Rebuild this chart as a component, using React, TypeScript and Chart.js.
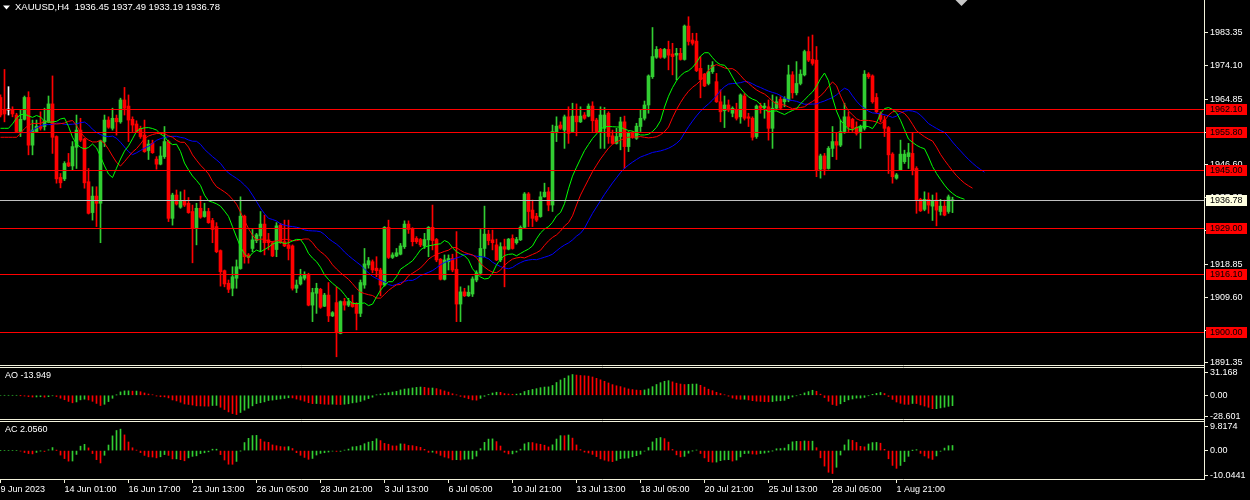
import React, { useEffect, useRef } from 'react';
import { Chart, registerables } from 'chart.js';

Chart.register(...registerables);

// ---------- DATA ----------
const opens = [
  1965.3, 1962.0, 1961.8, 1962.0, 1960.4, 1955.8, 1959.2, 1965.3, 1952.0, 1955.8,
  1957.2, 1957.2, 1958.5, 1963.5, 1954.4, 1943.0, 1942.6, 1947.1, 1946.2, 1951.4,
  1956.2, 1953.7, 1941.8, 1933.2, 1937.8, 1935.8, 1953.0, 1959.0, 1956.7, 1959.5,
  1958.5, 1964.6, 1962.9, 1959.2, 1957.9, 1956.7, 1954.8, 1950.5, 1952.5, 1948.1,
  1946.7, 1948.8, 1953.0, 1931.6, 1938.1, 1934.7, 1936.5, 1935.8, 1933.5, 1928.8,
  1934.4, 1932.1, 1933.5, 1931.0, 1929.3, 1922.6, 1917.0, 1913.5, 1912.1, 1914.9,
  1917.6, 1932.2, 1921.4, 1923.2, 1925.4, 1926.7, 1930.0, 1925.6, 1924.8, 1922.9,
  1929.7, 1925.1, 1924.2, 1923.9, 1912.1, 1913.3, 1914.9, 1915.8, 1907.4, 1910.7,
  1911.8, 1907.1, 1910.2, 1904.4, 1908.1, 1899.5, 1908.4, 1907.4, 1908.1, 1907.7,
  1905.1, 1913.0, 1918.6, 1919.5, 1917.7, 1917.2, 1913.0, 1929.1, 1920.7, 1921.1,
  1921.6, 1923.7, 1930.0, 1928.8, 1926.0, 1925.7, 1923.9, 1925.6, 1929.1, 1925.7,
  1920.2, 1914.6, 1919.5, 1920.4, 1917.4, 1907.7, 1911.1, 1910.0, 1910.5, 1914.4,
  1916.3, 1923.2, 1927.2, 1925.6, 1924.2, 1920.0, 1923.7, 1923.0, 1926.0, 1924.8,
  1925.6, 1929.1, 1938.4, 1933.9, 1932.2, 1932.1, 1937.6, 1939.0, 1935.3, 1955.5,
  1957.6, 1956.2, 1959.9, 1955.8, 1960.1, 1958.5, 1960.4, 1960.1, 1962.9, 1959.0,
  1955.8, 1956.7, 1960.9, 1954.6, 1952.5, 1954.4, 1958.5, 1951.6, 1955.3, 1953.9,
  1957.2, 1959.5, 1963.2, 1971.1, 1976.5, 1978.7, 1976.5, 1978.7, 1977.4, 1977.1,
  1977.6, 1975.9, 1985.2, 1981.3, 1981.0, 1973.4, 1971.8, 1969.2, 1972.5, 1969.7,
  1964.1, 1961.6, 1963.2, 1960.9, 1961.8, 1959.9, 1965.7, 1959.9, 1959.5, 1954.4,
  1962.9, 1962.5, 1962.7, 1956.7, 1962.3, 1964.8, 1964.1, 1964.6, 1971.6, 1966.6,
  1969.2, 1971.6, 1978.1, 1975.9, 1975.7, 1945.3, 1949.0, 1945.5, 1951.1, 1953.0,
  1952.0, 1955.8, 1959.9, 1959.2, 1957.0, 1955.8, 1956.7, 1971.8, 1971.3, 1965.3,
  1960.9, 1959.0, 1956.9, 1949.5, 1942.8, 1945.1, 1947.4, 1948.8, 1949.7, 1945.5,
  1936.9, 1934.1, 1936.9, 1935.0, 1936.7, 1933.5, 1935.0, 1933.5, 1936.45,
];
const highs = [
  1966.0, 1973.1, 1968.3, 1962.7, 1960.9, 1961.8, 1965.7, 1966.9, 1959.0, 1959.0,
  1961.3, 1962.3, 1965.7, 1971.3, 1954.6, 1944.1, 1947.4, 1949.7, 1953.0, 1960.4,
  1959.5, 1953.9, 1945.5, 1940.4, 1940.4, 1953.4, 1960.4, 1959.9, 1962.3, 1960.4,
  1965.1, 1968.1, 1966.0, 1959.9, 1958.8, 1957.3, 1959.0, 1953.4, 1953.4, 1948.8,
  1951.6, 1957.2, 1953.4, 1938.6, 1939.5, 1939.0, 1939.5, 1937.4, 1935.3, 1935.8,
  1937.8, 1935.8, 1934.4, 1931.6, 1930.4, 1922.8, 1917.2, 1914.4, 1918.1, 1920.0,
  1937.6, 1932.5, 1921.8, 1928.5, 1927.4, 1933.5, 1932.5, 1927.4, 1925.1, 1930.4,
  1930.2, 1931.1, 1931.1, 1924.2, 1914.4, 1917.4, 1916.7, 1916.3, 1912.1, 1913.5,
  1912.1, 1910.7, 1913.7, 1905.6, 1912.5, 1908.6, 1909.3, 1909.3, 1910.2, 1908.1,
  1914.4, 1923.2, 1920.7, 1920.0, 1920.9, 1917.7, 1929.3, 1931.1, 1922.0, 1923.2,
  1924.6, 1930.9, 1930.9, 1929.0, 1926.5, 1926.0, 1927.4, 1929.3, 1935.3, 1926.0,
  1920.4, 1921.4, 1921.4, 1921.6, 1927.9, 1912.5, 1912.1, 1912.8, 1915.3, 1917.0,
  1928.5, 1935.0, 1928.3, 1928.3, 1925.8, 1924.8, 1925.8, 1926.0, 1927.0, 1926.3,
  1929.5, 1938.8, 1938.8, 1936.7, 1933.0, 1939.0, 1941.4, 1940.2, 1957.6, 1959.9,
  1958.5, 1960.4, 1962.7, 1963.7, 1963.5, 1962.7, 1961.1, 1963.5, 1964.1, 1959.5,
  1962.7, 1962.5, 1961.3, 1956.2, 1956.7, 1959.8, 1960.1, 1955.8, 1955.8, 1958.1,
  1961.8, 1964.3, 1971.6, 1984.8, 1979.5, 1979.0, 1979.0, 1981.0, 1980.4, 1979.0,
  1979.0, 1985.5, 1987.8, 1983.2, 1983.2, 1976.7, 1972.0, 1974.3, 1975.3, 1972.0,
  1967.4, 1965.7, 1964.6, 1962.7, 1963.7, 1966.3, 1966.4, 1960.9, 1959.9, 1963.2,
  1963.7, 1963.7, 1964.6, 1966.0, 1965.5, 1965.5, 1965.5, 1974.3, 1972.5, 1975.3,
  1973.0, 1978.5, 1982.2, 1982.7, 1979.5, 1949.5, 1949.7, 1951.6, 1957.2, 1955.3,
  1959.0, 1963.7, 1961.3, 1959.5, 1958.5, 1957.6, 1972.8, 1972.2, 1971.6, 1966.4,
  1961.3, 1960.1, 1957.2, 1949.9, 1944.1, 1953.4, 1950.6, 1952.5, 1955.3, 1946.0,
  1937.2, 1939.0, 1938.7, 1938.1, 1938.7, 1936.9, 1936.7, 1938.1, 1937.49,
];
const lows = [
  1959.9, 1958.5, 1960.4, 1959.9, 1955.5, 1954.4, 1959.0, 1949.3, 1949.3, 1955.5,
  1956.2, 1956.2, 1958.3, 1949.7, 1941.4, 1940.1, 1942.1, 1946.0, 1945.1, 1945.5,
  1953.0, 1940.0, 1932.8, 1931.1, 1929.3, 1924.8, 1951.6, 1956.7, 1956.2, 1954.8,
  1958.1, 1960.4, 1953.0, 1955.8, 1955.5, 1953.9, 1950.0, 1948.0, 1949.7, 1945.3,
  1946.5, 1948.3, 1930.7, 1929.7, 1935.3, 1934.4, 1934.9, 1933.0, 1919.2, 1924.2,
  1931.6, 1931.9, 1930.2, 1924.8, 1922.0, 1912.7, 1912.5, 1910.9, 1910.0, 1912.1,
  1917.4, 1919.1, 1919.1, 1922.3, 1924.8, 1922.3, 1921.4, 1922.8, 1920.9, 1920.9,
  1924.6, 1923.7, 1920.0, 1911.6, 1910.9, 1913.0, 1914.4, 1907.2, 1902.8, 1905.1,
  1906.5, 1907.0, 1902.8, 1904.2, 1893.0, 1899.4, 1906.0, 1907.0, 1906.8, 1900.5,
  1904.2, 1912.1, 1917.7, 1916.4, 1915.3, 1910.0, 1912.7, 1920.4, 1920.4, 1920.9,
  1921.4, 1923.2, 1927.4, 1923.9, 1924.6, 1923.7, 1923.2, 1920.9, 1922.8, 1919.5,
  1914.4, 1914.4, 1917.2, 1916.7, 1902.8, 1902.8, 1909.8, 1909.8, 1909.8, 1913.9,
  1915.8, 1920.9, 1924.2, 1922.8, 1919.8, 1919.5, 1912.5, 1922.8, 1923.0, 1924.4,
  1925.4, 1928.8, 1929.3, 1929.3, 1930.7, 1931.9, 1937.5, 1933.7, 1933.5, 1953.0,
  1956.4, 1951.1, 1952.5, 1955.5, 1954.6, 1958.3, 1959.2, 1959.9, 1955.8, 1955.5,
  1951.1, 1951.1, 1952.5, 1952.3, 1952.3, 1950.7, 1945.5, 1950.2, 1953.9, 1953.6,
  1955.8, 1959.0, 1960.9, 1970.6, 1976.2, 1976.2, 1976.2, 1973.0, 1971.6, 1970.2,
  1975.7, 1975.7, 1979.9, 1979.9, 1972.5, 1965.2, 1968.3, 1968.8, 1972.0, 1963.9,
  1958.5, 1956.9, 1961.3, 1959.9, 1959.0, 1958.1, 1959.0, 1957.2, 1953.4, 1953.9,
  1960.9, 1959.5, 1953.4, 1951.1, 1961.8, 1962.0, 1962.7, 1964.1, 1965.1, 1966.0,
  1968.8, 1971.3, 1975.3, 1974.3, 1943.2, 1942.8, 1943.7, 1945.3, 1948.8, 1948.0,
  1951.6, 1955.3, 1955.8, 1955.8, 1954.8, 1951.1, 1956.2, 1970.6, 1963.7, 1960.9,
  1958.5, 1954.4, 1944.1, 1941.4, 1942.5, 1944.9, 1946.9, 1945.5, 1943.7, 1933.0,
  1933.5, 1933.7, 1933.0, 1931.0, 1929.5, 1932.5, 1932.3, 1933.0, 1933.19,
];
const closes = [
  1960.4, 1960.7, 1961.8, 1960.7, 1955.8, 1959.2, 1965.3, 1952.0, 1956.2, 1957.3,
  1956.7, 1958.8, 1963.5, 1954.2, 1942.6, 1941.5, 1946.9, 1946.2, 1951.6, 1956.2,
  1953.4, 1941.5, 1933.0, 1937.8, 1935.8, 1953.2, 1959.0, 1957.0, 1959.5, 1958.5,
  1964.6, 1962.3, 1959.0, 1957.6, 1955.8, 1954.4, 1950.2, 1952.3, 1949.9, 1946.7,
  1949.0, 1953.0, 1931.6, 1938.1, 1935.6, 1936.5, 1935.3, 1933.2, 1928.8, 1934.4,
  1931.9, 1933.5, 1930.4, 1928.5, 1922.3, 1916.7, 1913.3, 1911.8, 1915.3, 1918.1,
  1932.2, 1920.9, 1920.7, 1925.6, 1927.0, 1930.0, 1924.8, 1924.8, 1921.1, 1929.5,
  1924.8, 1923.9, 1923.2, 1912.1, 1913.0, 1915.3, 1915.8, 1907.4, 1910.9, 1912.1,
  1906.8, 1910.2, 1904.4, 1905.3, 1899.7, 1908.4, 1907.4, 1908.4, 1907.0, 1905.1,
  1913.7, 1918.9, 1919.8, 1917.2, 1917.0, 1913.0, 1929.1, 1920.7, 1921.4, 1922.0,
  1923.9, 1930.0, 1928.5, 1925.1, 1925.1, 1924.2, 1925.7, 1929.1, 1925.4, 1920.0,
  1914.6, 1920.0, 1920.4, 1917.2, 1907.7, 1911.1, 1910.0, 1911.0, 1914.7, 1916.4,
  1923.2, 1927.2, 1925.4, 1924.8, 1920.0, 1923.7, 1923.0, 1925.8, 1923.2, 1925.7,
  1929.1, 1938.4, 1933.5, 1931.6, 1931.1, 1937.6, 1938.9, 1935.3, 1955.8, 1957.3,
  1956.7, 1959.9, 1955.3, 1960.1, 1958.5, 1960.1, 1959.5, 1962.9, 1958.8, 1955.8,
  1960.4, 1960.4, 1954.4, 1952.5, 1954.4, 1958.5, 1951.6, 1955.3, 1954.2, 1957.3,
  1959.5, 1963.2, 1971.3, 1976.7, 1978.7, 1976.5, 1978.7, 1977.1, 1976.7, 1977.6,
  1975.9, 1985.2, 1980.9, 1980.4, 1972.8, 1970.3, 1968.5, 1972.5, 1974.3, 1964.1,
  1961.3, 1963.2, 1961.8, 1962.3, 1959.5, 1966.0, 1959.5, 1959.5, 1954.2, 1962.9,
  1962.3, 1962.9, 1956.7, 1962.3, 1964.1, 1962.3, 1964.9, 1971.6, 1966.6, 1969.2,
  1971.8, 1978.1, 1975.7, 1974.8, 1945.1, 1949.0, 1945.3, 1951.1, 1953.0, 1952.0,
  1955.8, 1959.9, 1957.2, 1956.7, 1955.3, 1957.2, 1971.8, 1971.1, 1964.1, 1961.3,
  1959.2, 1956.7, 1949.3, 1943.2, 1943.7, 1949.5, 1949.5, 1949.9, 1945.1, 1936.7,
  1933.7, 1936.9, 1935.3, 1936.4, 1933.9, 1935.0, 1932.5, 1937.6, 1936.78,
];

const xTickIndex = [0, 16, 32, 48, 64, 80, 96, 112, 128, 144, 160, 176, 192, 208, 224];
const xTickLabels = [
  '9 Jun 2023', '14 Jun 01:00', '16 Jun 17:00', '21 Jun 13:00', '26 Jun 05:00',
  '28 Jun 21:00', '3 Jul 13:00', '6 Jul 05:00', '10 Jul 21:00', '13 Jul 13:00',
  '18 Jul 05:00', '20 Jul 21:00', '25 Jul 13:00', '28 Jul 05:00', '1 Aug 21:00',
];
const priceTicks = [1983.35, 1974.1, 1964.85, 1955.6, 1946.6, 1937.35, 1928.1, 1918.85, 1909.6, 1900.35, 1891.35];
const levelPrices = [1962.1, 1955.8, 1945.0, 1929.0, 1916.1, 1900.0];
const bidPrice = 1936.78;
const aoTicks = [31.168, 0, -28.601];
const acTicks = [9.8174, 0, -10.0441];
const alligatorSeeds = { jaw: 1955.5, teeth: 1954.2, lips: 1956.7 };
const titleText = 'XAUUSD,H4  1936.45 1937.49 1933.19 1936.78';
const aoText = 'AO -13.949';
const acText = 'AC 2.0560';

// ---------- styles ----------
const BULL = '#32cd32';
const BEAR = '#ff0000';
const FRAME = '#f2f2dc';
const TEXT = '#ffffff';
const FONT = 'Liberation Sans';

// ---------- derived indicator series ----------
const median = highs.map((h, i) => (h + lows[i]) / 2);

function smmaLine(period: number, shift: number, seed: number) {
  const pts: { x: number; y: number }[] = [];
  for (let x = 0; x < shift; x++) pts.push({ x, y: seed });
  let prev = seed;
  median.forEach((m, i) => {
    prev = (prev * (period - 1) + m) / period;
    pts.push({ x: i + shift, y: prev });
  });
  return pts;
}

function sma(arr: number[], p: number) {
  return arr.map((_, i) => {
    const s = Math.max(0, i - p + 1);
    let sum = 0;
    for (let j = s; j <= i; j++) sum += arr[j];
    return sum / (i - s + 1);
  });
}

const sma5 = sma(median, 5);
const sma34 = sma(median, 34);
const ao = median.map((_, i) => sma5[i] - sma34[i]);
const aoSma = sma(ao, 5);
const ac = ao.map((v, i) => v - aoSma[i]);

function histColors(vals: number[]) {
  const out: string[] = [];
  vals.forEach((v, i) => {
    if (i === 0) out.push(BULL);
    else if (v > vals[i - 1]) out.push(BULL);
    else if (v < vals[i - 1]) out.push(BEAR);
    else out.push(out[i - 1]);
  });
  return out;
}

const candleColors = closes.map((c, i) => (c > opens[i] ? BULL : c < opens[i] ? BEAR : '#ffffff'));

function fmtTick(v: number, list: number[]) {
  if (v === 0) return '0.00';
  const found = list.find((t) => Math.abs(t - v) < 1e-6);
  return found !== undefined ? String(found) : '';
}

const noPadY = (s: any) => {
  s.width = 46;
  s.paddingTop = 0;
  s.paddingBottom = 0;
};

const overlayPlugin = {
  id: 'mt4overlay',
  afterDatasetsDraw(chart: any) {
    const ctx = chart.ctx;
    const ys = chart.scales.y;
    const area = chart.chartArea;
    ctx.save();
    ctx.lineWidth = 1;
    levelPrices.forEach((p) => {
      const y = Math.round(ys.getPixelForValue(p)) + 0.5;
      ctx.strokeStyle = '#ff0000';
      ctx.beginPath();
      ctx.moveTo(area.left, y);
      ctx.lineTo(area.right, y);
      ctx.stroke();
    });
    const yb = Math.round(ys.getPixelForValue(bidPrice)) + 0.5;
    ctx.strokeStyle = '#c0c0c0';
    ctx.beginPath();
    ctx.moveTo(area.left, yb);
    ctx.lineTo(area.right, yb);
    ctx.stroke();
    ctx.restore();
  },
  afterDraw(chart: any) {
    const ctx = chart.ctx;
    const ys = chart.scales.y;
    const sao = chart.scales.ao;
    const sac = chart.scales.ac;
    const xs = chart.scales.x;
    const area = chart.chartArea;
    ctx.save();
    // frames
    ctx.strokeStyle = FRAME;
    ctx.lineWidth = 1;
    const hl = (y: number) => {
      ctx.beginPath();
      ctx.moveTo(0, y);
      ctx.lineTo(area.right + 0.5, y);
      ctx.stroke();
    };
    hl(ys.bottom - 0.5);
    hl(sao.top + 1.5);
    hl(sao.bottom - 0.5);
    hl(sac.top + 1.5);
    hl(sac.bottom - 0.5);
    ctx.beginPath();
    ctx.moveTo(area.right + 0.5, 0);
    ctx.lineTo(area.right + 0.5, sac.bottom);
    ctx.stroke();

    // price label boxes
    ctx.font = `9px "${FONT}"`;
    ctx.textBaseline = 'middle';
    ctx.textAlign = 'left';
    const box = (p: number, bg: string) => {
      const y = Math.round(ys.getPixelForValue(p)) + 0.5;
      ctx.fillStyle = bg;
      ctx.fillRect(area.right + 2, y - 5.5, 41, 11);
      ctx.fillStyle = '#000000';
      ctx.fillText(p.toFixed(2), area.right + 6, y + 0.5);
    };
    levelPrices.forEach((p) => box(p, '#ff0000'));
    box(bidPrice, '#ffffe0');

    // titles
    ctx.fillStyle = TEXT;
    ctx.textBaseline = 'top';
    ctx.fillText(aoText, 5, sao.top + 5.5);
    ctx.fillText(acText, 5, sac.top + 5.5);
    ctx.font = `9.5px "${FONT}"`;
    ctx.fillText(titleText, 15, 2.5);
    ctx.beginPath();
    ctx.moveTo(3, 5.5);
    ctx.lineTo(10, 5.5);
    ctx.lineTo(6.5, 9.5);
    ctx.closePath();
    ctx.fill();
    // chart shift marker
    const sx = xs.getPixelForValue(240.25);
    ctx.fillStyle = '#c8c8c8';
    ctx.beginPath();
    ctx.moveTo(sx - 6, 0);
    ctx.lineTo(sx + 6, 0);
    ctx.lineTo(sx, 6);
    ctx.closePath();
    ctx.fill();
    ctx.restore();
  },
};

export default function App() {
  const ref = useRef<HTMLCanvasElement | null>(null);
  useEffect(() => {
    document.body.style.margin = '0';
    document.body.style.background = '#000000';
    if (!ref.current) return;
    const tickFont = { family: FONT, size: 9 };
    const chart = new Chart(ref.current, {
      type: 'bar',
      data: {
        datasets: [
          {
            type: 'line', label: 'Lips', data: smmaLine(5, 3, alligatorSeeds.lips), yAxisID: 'y',
            borderColor: '#00ff00', borderWidth: 1, pointRadius: 0, tension: 0, order: 0,
          } as any,
          {
            type: 'line', label: 'Teeth', data: smmaLine(8, 5, alligatorSeeds.teeth), yAxisID: 'y',
            borderColor: '#ff0000', borderWidth: 1, pointRadius: 0, tension: 0, order: 0,
          } as any,
          {
            type: 'line', label: 'Jaw', data: smmaLine(13, 8, alligatorSeeds.jaw), yAxisID: 'y',
            borderColor: '#0000ff', borderWidth: 1, pointRadius: 0, tension: 0, order: 0,
          } as any,
          {
            type: 'bar', label: 'Bodies', data: opens.map((o, i) => ({ x: i, y: [o, closes[i]] })), yAxisID: 'y',
            backgroundColor: candleColors, barThickness: 3, grouped: false, minBarLength: 1, borderWidth: 0, order: 1,
          } as any,
          {
            type: 'bar', label: 'Wicks', data: lows.map((l, i) => ({ x: i, y: [l, highs[i]] })), yAxisID: 'y',
            backgroundColor: candleColors, barThickness: 1, grouped: false, borderWidth: 0, order: 2,
          } as any,
          {
            type: 'bar', label: 'AO', data: ao.map((v, i) => ({ x: i, y: v })), yAxisID: 'ao',
            backgroundColor: histColors(ao), barThickness: 1, grouped: false, borderWidth: 0, order: 3,
          } as any,
          {
            type: 'bar', label: 'AC', data: ac.map((v, i) => ({ x: i, y: v })), yAxisID: 'ac',
            backgroundColor: histColors(ac), barThickness: 1, grouped: false, borderWidth: 0, order: 3,
          } as any,
        ],
      },
      options: {
        animation: false,
        responsive: false,
        maintainAspectRatio: false,
        devicePixelRatio: 1,
        events: [],
        layout: { padding: 0 },
        plugins: { legend: { display: false }, tooltip: { enabled: false } },
        scales: {
          x: {
            type: 'linear', min: -0.125, max: 300.875, offset: false, position: 'bottom',
            afterBuildTicks: (s: any) => { s.ticks = xTickIndex.map((v) => ({ value: v })); },
            afterFit: (s: any) => { s.height = 20; s.paddingLeft = 0; s.paddingRight = 0; },
            grid: { display: true, drawOnChartArea: false, drawTicks: true, tickLength: 3, color: FRAME, offset: false },
            border: { display: false },
            ticks: {
              autoSkip: false, maxRotation: 0, minRotation: 0, align: 'start', padding: 1, color: TEXT, font: tickFont,
              callback: (_v: any, idx: number) => xTickLabels[idx],
            },
          },
          y: {
            type: 'linear', position: 'right', stack: 'panes', stackWeight: 366, min: 1890.43, max: 1992.47,
            afterBuildTicks: (s: any) => { s.ticks = priceTicks.map((v) => ({ value: v })); },
            afterFit: noPadY,
            grid: { drawOnChartArea: false, drawTicks: true, tickLength: 4, color: FRAME },
            border: { display: false },
            ticks: { autoSkip: false, padding: 2, color: TEXT, font: tickFont, callback: (v: any) => Number(v).toFixed(2) },
          },
          ao: {
            type: 'linear', position: 'right', stack: 'panes', stackWeight: 54, min: -33.6, max: 39.8,
            afterBuildTicks: (s: any) => { s.ticks = aoTicks.map((v) => ({ value: v })); },
            afterFit: noPadY,
            grid: { drawOnChartArea: false, drawTicks: true, tickLength: 4, color: FRAME },
            border: { display: false },
            ticks: { autoSkip: false, padding: 2, color: TEXT, font: tickFont, callback: (v: any) => fmtTick(Number(v), aoTicks) },
          },
          ac: {
            type: 'linear', position: 'right', stack: 'panes', stackWeight: 60, min: -11.75, max: 12.23,
            afterBuildTicks: (s: any) => { s.ticks = acTicks.map((v) => ({ value: v })); },
            afterFit: noPadY,
            grid: { drawOnChartArea: false, drawTicks: true, tickLength: 4, color: FRAME },
            border: { display: false },
            ticks: { autoSkip: false, padding: 2, color: TEXT, font: tickFont, callback: (v: any) => fmtTick(Number(v), acTicks) },
          },
        },
      } as any,
      plugins: [overlayPlugin],
    });
    return () => chart.destroy();
  }, []);
  return (
    <div style={{ width: 1250, height: 500, background: '#000000' }}>
      <canvas ref={ref} width={1250} height={500} style={{ display: 'block' }} />
    </div>
  );
}
